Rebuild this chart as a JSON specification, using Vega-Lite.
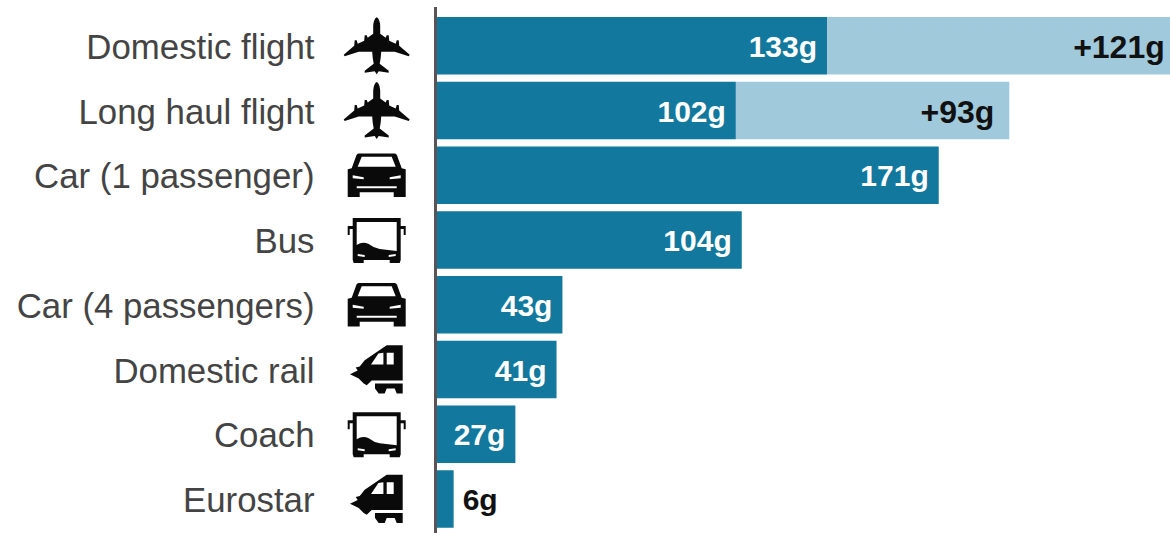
{
"$schema":"https://vega.github.io/schema/vega-lite/v6.json",
"width":734,"height":526,
"autosize":{"type":"none"},
"padding":{"left":436,"top":7,"right":0,"bottom":0},
"background":"white",
"config":{"view":{"stroke":null}},
"datasets":{
"bars":[
{"mode":"Domestic flight","segment":"a","value":133},
{"mode":"Domestic flight","segment":"b","value":121},
{"mode":"Long haul flight","segment":"a","value":102},
{"mode":"Long haul flight","segment":"b","value":93},
{"mode":"Car (1 passenger)","segment":"a","value":171},
{"mode":"Bus","segment":"a","value":104},
{"mode":"Car (4 passengers)","segment":"a","value":43},
{"mode":"Domestic rail","segment":"a","value":41},
{"mode":"Coach","segment":"a","value":27},
{"mode":"Eurostar","segment":"a","value":6}
],
"modes":[
{"mode":"Domestic flight","icon":"plane"},
{"mode":"Long haul flight","icon":"plane"},
{"mode":"Car (1 passenger)","icon":"car"},
{"mode":"Bus","icon":"bus"},
{"mode":"Car (4 passengers)","icon":"car"},
{"mode":"Domestic rail","icon":"train"},
{"mode":"Coach","icon":"bus"},
{"mode":"Eurostar","icon":"train"}
],
"labels":[
{"mode":"Domestic flight","end":133,"label":"133g","kind":"inside"},
{"mode":"Long haul flight","end":102,"label":"102g","kind":"inside"},
{"mode":"Car (1 passenger)","end":171,"label":"171g","kind":"inside"},
{"mode":"Bus","end":104,"label":"104g","kind":"inside"},
{"mode":"Car (4 passengers)","end":43,"label":"43g","kind":"inside"},
{"mode":"Domestic rail","end":41,"label":"41g","kind":"inside"},
{"mode":"Coach","end":27,"label":"27g","kind":"inside"},
{"mode":"Eurostar","end":6,"label":"6g","kind":"outside"},
{"mode":"Domestic flight","end":254,"label":"+121g","kind":"extra"},
{"mode":"Long haul flight","end":195,"label":"+93g","kind":"extra"}
]
},
"encoding":{
"y":{"field":"mode","type":"nominal",
"sort":["Domestic flight","Long haul flight","Car (1 passenger)","Bus","Car (4 passengers)","Domestic rail","Coach","Eurostar"],
"scale":{"paddingInner":0.112,"paddingOuter":0.118,"align":0.656},
"axis":{"title":null,"domain":false,"ticks":false,"labelPadding":122,"labelOffset":3,"labelFontSize":34.8,"labelFont":"Liberation Sans","labelColor":"#444444","labelLimit":430}
}
},
"layer":[
{"data":{"name":"bars"},
"mark":{"type":"bar","clip":true},
"encoding":{
"x":{"field":"value","type":"quantitative","stack":"zero","scale":{"domain":[0,249.66],"nice":false,"zero":false},"axis":null},
"color":{"field":"segment","type":"nominal","scale":{"domain":["a","b"],"range":["#13789d","#a1c9dc"]},"legend":null},
"order":{"field":"segment"}
}},
{"data":{"name":"modes"},
"mark":{"type":"rule","color":"#5a5456","strokeWidth":3,"xOffset":-0.5},
"encoding":{"x":{"datum":0},"y":null}
},
{"data":{"name":"modes"},
"mark":{"type":"point","filled":true,"color":"#0a0a0a","opacity":1,"size":4,"xOffset":-59.3,"strokeWidth":0},
"encoding":{
"x":{"datum":0},
"shape":{"field":"icon","type":"nominal","legend":null,"scale":{"domain":["plane","car","bus","train"],"range":[
"M0,-28.5 Q3,-27 3.5,-20 L3.5,-12 L9,-8 L10,-10.5 L12,-10.5 L12.5,-5 L19,-2 L20,-5.5 L22,-5.5 L22.5,0 L33,9 L32,10.5 L18,6 L4.5,6 L4,12 L3,18 L12,25 L12,27 L2,25.5 L0,28.5 L-2,25.5 L-12,27 L-12,25 L-3,18 L-4,12 L-4.5,6 L-18,6 L-32,10.5 L-33,9 L-22.5,0 L-22,-5.5 L-20,-5.5 L-19,-2 L-12.5,-5 L-12,-10.5 L-10,-10.5 L-9,-8 L-3.5,-12 L-3.5,-20 Q-3,-27 0,-28.5 Z",
"M-18,-21.7 L18,-21.7 Q20,-21.7 21,-18 L25,-7 L29,-6 L29,21.7 L17,21.7 L17,17 L-17,17 L-17,21.7 L-29,21.7 L-29,-6 L-25,-7 L-21,-18 Q-20,-21.7 -18,-21.7 Z M-15,-18.5 L-19,-8.5 L19,-8.5 L15,-18.5 Z M-24,0 L-24,3 L-13,4 L-13,2 Z M24,0 L13,2 L13,4 L24,3 Z M-20,11 L-20,13 L20,13 L20,11 Z",
"M-24,-22 L24,-22 L24,-14 L29,-14 L29,-5 L27,-5 L27,-11 L24,-11 L24,20 L23,23 L13,23 L13,20 L-13,20 L-13,23 L-23,23 L-24,20 L-24,-11 L-27,-11 L-27,-5 L-29,-5 L-29,-14 L-24,-14 Z M-20,-18 L-20,5 Q-14,1 -8,4 Q-3,8 3,9 L20,11 L20,-18 Z M-19,14 L-19,16 L-12,17 L-12,15 Z M19,14 L12,15 L12,17 L19,16 Z",
"M26,-24.3 L26,11 L-5,11 L-10,15.7 L-13,14 L-18,9 L-26.7,4.7 L-19,1 L-21,-2 L-17,-3 L-12,-9.3 L10,-24.3 Z M-5.7,-5 L6.7,-5 L6.7,-16.7 L1.7,-16 Z M10,-5 L17,-5 L17,-16.7 L10,-16.7 Z M-1.7,14 L26,14 L26,24 L20,24 L18,19 L10,19 L8,24 L2,24 L-1.7,19 Z"
]}}
}},
{"data":{"name":"labels"},
"transform":[{"filter":"datum.kind==='inside'"}],
"mark":{"type":"text","align":"right","baseline":"middle","dx":-10,"dy":2,"font":"Liberation Sans","fontWeight":"bold","fontSize":30,"color":"white"},
"encoding":{"x":{"field":"end","type":"quantitative"},"text":{"field":"label"}}},
{"data":{"name":"labels"},
"transform":[{"filter":"datum.kind==='outside'"}],
"mark":{"type":"text","align":"left","baseline":"middle","dx":9,"dy":2,"font":"Liberation Sans","fontWeight":"bold","fontSize":30,"color":"#111111"},
"encoding":{"x":{"field":"end","type":"quantitative"},"text":{"field":"label"}}},
{"data":{"name":"labels"},
"transform":[{"filter":"datum.kind==='extra'&&datum.end>200"}],
"mark":{"type":"text","align":"right","baseline":"middle","dx":-18,"dy":2,"font":"Liberation Sans","fontWeight":"bold","fontSize":32,"color":"#111111"},
"encoding":{"x":{"field":"end","type":"quantitative"},"text":{"field":"label"}}},
{"data":{"name":"labels"},
"transform":[{"filter":"datum.kind==='extra'&&datum.end<200"}],
"mark":{"type":"text","align":"right","baseline":"middle","dx":-15,"dy":2,"font":"Liberation Sans","fontWeight":"bold","fontSize":32,"color":"#111111"},
"encoding":{"x":{"field":"end","type":"quantitative"},"text":{"field":"label"}}}
]
}
